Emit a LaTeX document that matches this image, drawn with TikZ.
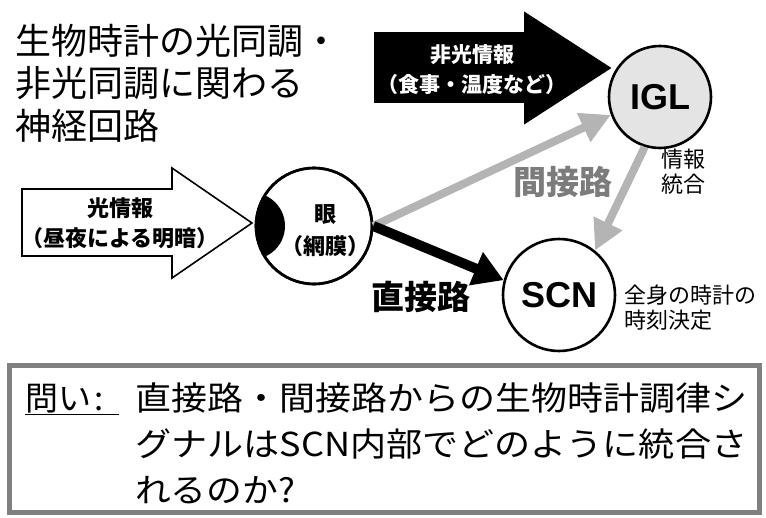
\documentclass[tikz,border=0pt]{standalone}
\usepackage{fontspec}
\usepackage{graphicx}
\setmainfont{Noto Sans CJK JP}
\newfontfamily\latinsans{Liberation Sans}
\usepackage{tikz}
\usetikzlibrary{arrows.meta}

\definecolor{pathgray}{HTML}{B4B4B4}
\definecolor{labelgray}{HTML}{7C7C7C}
\definecolor{nucfill}{HTML}{E4E4E4}
\definecolor{boxgray}{HTML}{808080}

\newcommand{\fitline}[2]{\resizebox{#1}{\height}{#2}}

\begin{document}
\begin{tikzpicture}[x=1pt,y=-1pt,
    organ/.style={circle,draw,line width=2.6pt,inner sep=0pt},
    nucname/.style={font=\latinsans\bfseries\fontsize{36}{36}\selectfont},
    blockarrow/.style={draw,line width=1.6pt,line join=miter},
    arrowtext/.style={align=center,font=\bfseries\fontsize{22}{30}\selectfont},
    note/.style={font=\fontsize{22}{25}\selectfont},
    direct/.style={line width=10pt,-{Triangle[length=30pt,width=34pt]}},
    indirect/.style={line width=8pt,pathgray,-{Triangle[length=30pt,width=30pt]}}]
\useasboundingbox (0,0) rectangle (766,517);

\node[anchor=base west,inner sep=0pt,align=left,font=\fontsize{36}{42.5}\selectfont] (title) at (15,139)
  {生物時計の光同調・\\非光同調に関わる\\神経回路};

\node[organ,minimum size=116pt] (eye) at (314,226) {};
\begin{scope}
\clip (314,226) circle[radius=58pt];
\fill (251.6,226) circle[radius=33.4pt];
\end{scope}
\node[organ,minimum size=116pt] at (314,226) {};
\node[align=center,font=\bfseries\fontsize{22}{32}\selectfont] (eyelabel) at (325,231) {眼\\（網膜）};

\node[organ,fill=nucfill,minimum size=102pt,nucname] (igl) at (660,97) {IGL};
\node[organ,minimum size=112pt,nucname] (scn) at (559,295) {SCN};

\draw[blockarrow,fill=white] (22,189) -- (172,189) -- (172,168) -- (252,223)
  -- (172,278) -- (172,256) -- (22,256) -- cycle;
\node[arrowtext] (light) at (120,223) {光情報\\（昼夜による明暗）};

\draw[blockarrow,fill=black] (375,33) -- (525,33) -- (525,13) -- (610,68)
  -- (525,123) -- (525,102) -- (375,102) -- cycle;
\node[arrowtext,text=white,font=\bfseries\fontsize{21}{30}\selectfont] (nonlight) at (472,70)
  {非光情報\\（食事・温度など）};

\draw[indirect] (eye.east) -- (igl.200);
\draw[indirect] (igl.253) -- (scn.51);
\draw[direct] (eye.east) -- (scn.165);

\node[font=\bfseries\fontsize{33}{33}\selectfont,text=labelgray] (indirectlabel) at (563,182) {間接路};
\node[font=\bfseries\fontsize{33}{33}\selectfont] (directlabel) at (421,297) {直接路};
\node[note,align=center] (integ) at (683,172) {情報\\統合};
\node[note,align=left,anchor=west] (phase) at (621,308) {全身の時計の\\時刻決定};

\draw[boxgray,line width=5pt] (9.5,365.5) rectangle (759.5,512.5);
\node[anchor=base west,inner sep=0pt,font=\fontsize{33}{46}\selectfont] (qlabel) at (25,410)
  {\underline{問い\hspace{3pt}:\hspace{16pt}}};
\node[anchor=base west,inner sep=0pt,align=left,font=\fontsize{33}{46}\selectfont] (question) at (135,502)
  {\fitline{612pt}{直接路・間接路からの生物時計調律シ}\\
   \fitline{612pt}{グナルはSCN内部でどのように統合さ}\\
   \fitline{160pt}{れるのか?}};
\end{tikzpicture}
\end{document}
